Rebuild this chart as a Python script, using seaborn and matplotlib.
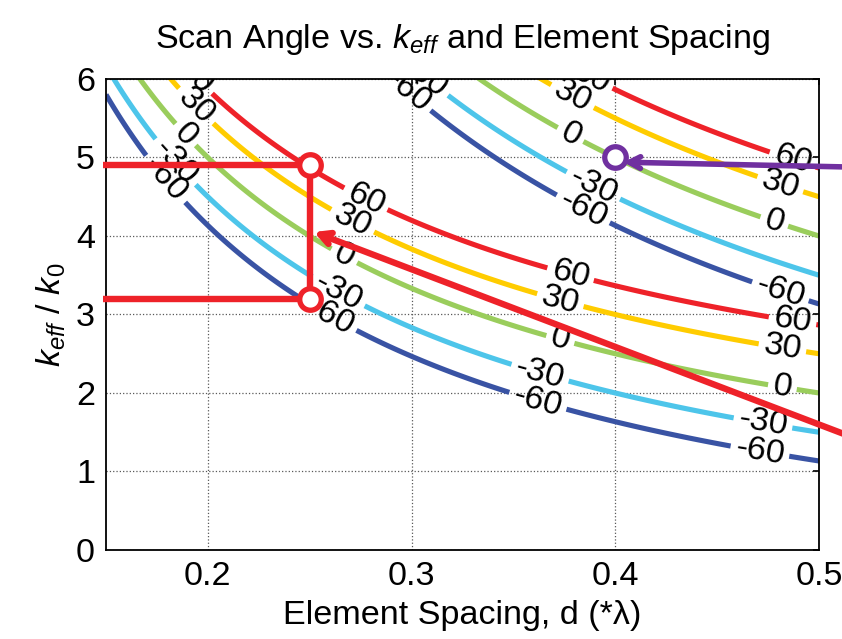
import numpy as np
import matplotlib
matplotlib.use('Agg')
import matplotlib.pyplot as plt
import seaborn as sns
from matplotlib import font_manager

# contour family: sin(theta) = keff/k0 - m/d
orders = [1, 2]
scan_levels = [-60, -30, 0, 30, 60]
level_colors = ['#3953a4', '#4dc5ea', '#9acd5c', '#ffcc00', '#ee2229']
spacing_range = [0.15, 0.5]
keff_range = [0.0, 6.3]

# design point lines (red) and the purple marker
design_d = 0.25
design_k = [4.9, 3.2]
arrow_tip = [0.252, 4.05]
arrow_tail = [0.512, 1.48]
purple_pt = [0.4, 5.0]
purple_tip = [0.404, 4.94]
purple_tail = [0.512, 4.88]

# label spots (d, keff)
label_spots = {
    1: [(0.179, 4.72), (0.184, 4.94), (0.189, 5.29), (0.194, 5.65), (0.193, 6.02),
        (0.2775, 4.47), (0.271, 4.19), (0.267, 3.75), (0.264, 3.29), (0.260, 2.98),
        (0.378, 3.51), (0.373, 3.18), (0.373, 2.68), (0.363, 2.25), (0.362, 1.90),
        (0.487, 2.92), (0.482, 2.57), (0.482, 2.07), (0.4725, 1.62), (0.471, 1.26)],
    2: [(0.296, 5.78), (0.306, 6.02),
        (0.388, 6.02), (0.379, 5.78), (0.378, 5.29), (0.389, 4.63), (0.384, 4.33),
        (0.487, 4.97), (0.481, 4.66), (0.478, 4.18), (0.481, 3.29)],
}

sns.set_style('white', {'text.color': 'black', 'axes.labelcolor': 'black'})
names = {f.name for f in font_manager.fontManager.ttflist}
narrow = 'Liberation Sans Narrow' in names
base = 'Liberation Sans Narrow' if narrow else 'Liberation Sans'
scale = 1.0 if narrow else 0.82
plt.rcParams['font.family'] = [base, 'DejaVu Sans']
plt.rcParams['text.color'] = 'black'
plt.rcParams['mathtext.fontset'] = 'custom'
plt.rcParams['mathtext.rm'] = base
plt.rcParams['mathtext.it'] = base + ':italic'
fs = 30 * scale

fig = plt.figure(figsize=(8.42, 6.39), dpi=100)
ax = fig.add_axes([0.1259, 0.1393, 0.8468, 0.7371])

d = np.linspace(spacing_range[0], spacing_range[1], 500)
k = np.linspace(keff_range[0], keff_range[1], 500)
D, K = np.meshgrid(d, k)
for m in orders:
    s = K - m / D
    z = np.ma.masked_invalid(np.where(np.abs(s) <= 1, np.degrees(np.arcsin(np.clip(s, -1, 1))), np.nan))
    cs = ax.contour(D, K, z, levels=scan_levels, colors=level_colors, linewidths=3.7, zorder=2)
    ax.clabel(cs, inline=True, fmt='%d', fontsize=fs * 1.0, colors='k',
              manual=label_spots[m], inline_spacing=5)

red = '#ee2229'
ax.plot([0.1485, design_d, design_d, 0.1485],
        [design_k[0], design_k[0], design_k[1], design_k[1]],
        color=red, lw=4.6, zorder=4, clip_on=False, solid_capstyle='butt')
ax.plot([design_d, design_d], design_k, 'o', ms=15.5, mfc='white', mec=red, mew=3.8, zorder=5)
ax.annotate('', xy=arrow_tip, xytext=arrow_tail, annotation_clip=False,
            arrowprops=dict(arrowstyle='->,head_length=0.8,head_width=0.42', color=red,
                            lw=4.6, shrinkA=0, shrinkB=0, clip_on=False), zorder=4)
purple = '#7030a0'
ax.plot([purple_pt[0]], [purple_pt[1]], 'o', ms=15.5, mfc='white', mec=purple, mew=3.8, zorder=5)
ax.annotate('', xy=purple_tip, xytext=purple_tail, annotation_clip=False,
            arrowprops=dict(arrowstyle='->,head_length=0.8,head_width=0.42', color=purple,
                            lw=4.0, shrinkA=0, shrinkB=0, clip_on=False), zorder=4)

ax.set_xlim(0.15, 0.5)
ax.set_ylim(0, 6)
ax.set_xticks([0.2, 0.3, 0.4, 0.5])
ax.set_xticklabels(['0.2', '0.3', '0.4', '0.5'])
ax.set_yticks(range(0, 7))
ax.grid(True, linestyle=':', color='0.35', linewidth=0.9)
ax.tick_params(direction='in', top=True, right=True, length=4, width=1.2,
               labelsize=fs, pad=8, colors='k')
for sp in ax.spines.values():
    sp.set_color('k')
    sp.set_linewidth(1.3)

ax.set_title(r'Scan Angle vs. $k_{eff}$ and Element Spacing', fontsize=fs, pad=22, color='black')
ax.set_xlabel('Element Spacing, d (*\u03bb)', fontsize=fs, labelpad=6, color='black')
ax.set_ylabel(r'$k_{eff}\ /\ k_{\mathit{0}}$', fontsize=fs, labelpad=6, color='black')

fig.savefig('out.png', dpi=100)
